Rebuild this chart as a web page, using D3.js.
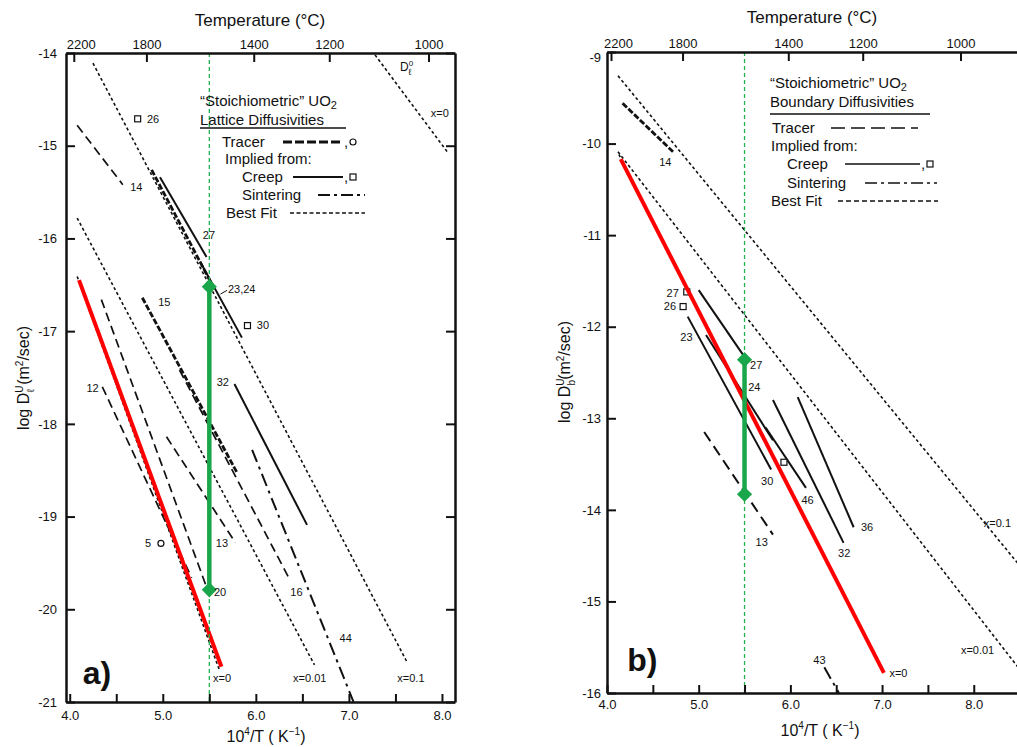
<!DOCTYPE html>
<html><head><meta charset="utf-8">
<script src="https://cdn.jsdelivr.net/npm/d3@7"></script>
<style>
body{margin:0;background:#fff}
svg{display:block;background:#fff}
text{font-family:"Liberation Sans",Arial,Helvetica,sans-serif;fill:#111}
</style>
</head><body>
<svg id="chart" width="1017" height="747"></svg>
<script>
// ---------------- DATA ----------------
const xTickValues = [4.0, 4.5, 5.0, 5.5, 6.0, 6.5, 7.0, 7.5, 8.0];
const tempTicks = [2200, 1800, 1400, 1200, 1000];
const yTicksA = [-21, -20, -19, -18, -17, -16, -15, -14];
const yTicksB = [-16, -15, -14, -13, -12, -11, -10, -9];
const markerX = 5.5;

// Panel a: lattice diffusivities (segments: x = 1e4/T, y = log D)
const latticeBestFit = [
  {id: "Dl0 x=0", x: [7.28, 8.06], y: [-14.02, -15.07]},
  {id: "x=0.1",   x: [4.25, 7.63], y: [-14.11, -20.58]},
  {id: "x=0.01",  x: [4.08, 6.63], y: [-15.78, -20.60]},
  {id: "x=0",     x: [4.08, 5.61], y: [-16.41, -20.66]}
];
const latticeTracer = [
  {id: "14", x: [4.08, 4.57], y: [-14.78, -15.42]},
  {id: "12", x: [4.35, 5.31], y: [-17.60, -19.66]},
  {id: "20", x: [4.34, 5.47], y: [-16.66, -19.76]},
  {id: "13", x: [5.04, 5.78], y: [-18.14, -19.28]},
  {id: "16", x: [5.18, 6.37], y: [-17.42, -19.69]}
];
const latticeTracerHeavy = [
  {id: "15",    x: [4.78, 5.80], y: [-16.64, -18.53]},
  {id: "23,24", x: [4.88, 5.53], y: [-15.26, -16.50]}
];
const latticeCreep = [
  {id: "27",    x: [4.97, 5.47], y: [-15.34, -16.20]},
  {id: "23,24", x: [5.40, 5.85], y: [-16.25, -17.07]},
  {id: "32",    x: [5.77, 6.55], y: [-17.57, -19.09]}
];
const latticeSintering = [
  {id: "44", x: [5.96, 7.05], y: [-18.28, -21.0]}
];
const latticeCreepPoints = [{id: "26", x: 4.73, y: -14.71}, {id: "30", x: 5.91, y: -16.94}];
const latticeTracerPoints = [{id: "5", x: 4.98, y: -19.29}];
const latticeRed = {x: [4.10, 5.63], y: [-16.45, -20.62]};
const latticeGreen = {x: 5.5, y: [-16.52, -19.79]};
const latticeLabels = [
  {t: "26", x: 4.83, y: -14.71}, {t: "30", x: 6.01, y: -16.94}, {t: "14", x: 4.65, y: -15.45},
  {t: "27", x: 5.43, y: -15.96}, {t: "23,24", x: 5.70, y: -16.55}, {t: "15", x: 4.95, y: -16.69},
  {t: "32", x: 5.58, y: -17.55}, {t: "12", x: 4.18, y: -17.62}, {t: "13", x: 5.57, y: -19.29},
  {t: "5", x: 4.81, y: -19.29}, {t: "20", x: 5.55, y: -19.81}, {t: "16", x: 6.37, y: -19.81},
  {t: "44", x: 6.90, y: -20.31}, {t: "x=0", x: 5.54, y: -20.74}, {t: "x=0.01", x: 6.40, y: -20.74},
  {t: "x=0.1", x: 7.52, y: -20.74}, {t: "x=0", x: 7.88, y: -14.65}
];

// Panel b: boundary diffusivities
const boundaryBestFit = [
  {id: "x=0.1",  x: [4.12, 8.60], y: [-9.26, -14.73]},
  {id: "x=0.01", x: [4.12, 8.60], y: [-10.09, -15.87]},
  {id: "x=0",    x: [4.13, 7.02], y: [-10.12, -15.78]}
];
const boundaryTracer = [
  {id: "13", x: [5.06, 5.81], y: [-13.15, -14.27]}
];
const boundaryTracerHeavy = [
  {id: "14", x: [4.17, 4.72], y: [-9.56, -10.09]}
];
const boundaryCreep = [
  {id: "27", x: [5.00, 5.52], y: [-11.60, -12.36]},
  {id: "23", x: [4.88, 5.79], y: [-11.89, -13.56]},
  {id: "24", x: [5.08, 5.81], y: [-12.09, -13.24]},
  {id: "46", x: [5.73, 6.17], y: [-13.10, -13.76]},
  {id: "32", x: [5.81, 6.58], y: [-12.80, -14.36]},
  {id: "36", x: [6.08, 6.69], y: [-12.77, -14.19]}
];
const boundarySintering = [
  {id: "43", x: [6.37, 6.53], y: [-15.72, -16.0]}
];
const boundaryCreepPoints = [{id: "27", x: 4.87, y: -11.62}, {id: "26", x: 4.83, y: -11.78}, {id: "30", x: 5.93, y: -13.48}];
const boundaryRed = {x: [4.15, 7.02], y: [-10.17, -15.78]};
const boundaryGreen = {x: 5.5, y: [-12.36, -13.83]};
const boundaryLabels = [
  {t: "14", x: 4.57, y: -10.20}, {t: "27", x: 4.65, y: -11.63}, {t: "26", x: 4.62, y: -11.78},
  {t: "23", x: 4.80, y: -12.11}, {t: "27", x: 5.56, y: -12.42}, {t: "24", x: 5.54, y: -12.66},
  {t: "30", x: 5.68, y: -13.69}, {t: "46", x: 6.12, y: -13.89}, {t: "36", x: 6.77, y: -14.19},
  {t: "32", x: 6.52, y: -14.47}, {t: "13", x: 5.62, y: -14.35}, {t: "43", x: 6.25, y: -15.64},
  {t: "x=0", x: 7.08, y: -15.78}, {t: "x=0.01", x: 7.86, y: -15.53}, {t: "x=0.1", x: 8.11, y: -14.14}
];

// ---------------- DRAWING ----------------
const svg = d3.select("#chart");
const FONT = '"Liberation Sans",Arial,Helvetica,sans-serif';

const styles = {
  bestFit: {w: 1.6, dash: "3,2.6"},
  tracer: {w: 1.7, dash: "9,5"},
  tracerHeavy: {w: 2.8, dash: "6,2"},
  creep: {w: 2, dash: null},
  sintering: {w: 2, dash: "13,5,3,5"}
};

function panel(cfg) {
  const g = svg.append("g");
  const x = cfg.x, y = cfg.y;
  const [x0, x1] = x.range(), [yb, yt] = y.range();
  const clipId = "clip" + cfg.name;
  svg.append("clipPath").attr("id", clipId).append("rect")
    .attr("x", x0).attr("y", yt).attr("width", x1 - x0).attr("height", yb - yt);
  const plot = g.append("g").attr("clip-path", `url(#${clipId})`);
  const line = d3.line().x(d => x(d[0])).y(d => y(d[1]));

  function segs(arr, st, extra) {
    plot.selectAll(null).data(arr).enter().append("path")
      .attr("d", d => line([[d.x[0], d.y[0]], [d.x[1], d.y[1]]]))
      .attr("fill", "none").attr("stroke", "#111")
      .attr("stroke-width", (extra && extra.w) || st.w)
      .attr("stroke-dasharray", (extra && extra.dash) || st.dash);
  }
  segs(cfg.bestFit, styles.bestFit);
  segs(cfg.tracer, styles.tracer, cfg.tracerStyle);
  segs(cfg.tracerHeavy, styles.tracerHeavy);
  segs(cfg.creep, styles.creep);
  segs(cfg.sintering, styles.sintering);

  plot.selectAll(null).data(cfg.creepPts).enter().append("rect")
    .attr("x", d => x(d.x) - 3).attr("y", d => y(d.y) - 3).attr("width", 6).attr("height", 6)
    .attr("fill", "#fff").attr("stroke", "#111").attr("stroke-width", 1.2);
  plot.selectAll(null).data(cfg.tracerPts).enter().append("circle")
    .attr("cx", d => x(d.x)).attr("cy", d => y(d.y)).attr("r", 3)
    .attr("fill", "#fff").attr("stroke", "#111").attr("stroke-width", 1.2);

  // red line
  plot.append("path").attr("d", line([[cfg.red.x[0], cfg.red.y[0]], [cfg.red.x[1], cfg.red.y[1]]]))
    .attr("stroke", "#ff0000").attr("stroke-width", 4).attr("fill", "none");

  // green dashed vertical and bar
  plot.append("line").attr("x1", x(markerX)).attr("x2", x(markerX)).attr("y1", yt).attr("y2", yb)
    .attr("stroke", "#22b14c").attr("stroke-width", 1.3).attr("stroke-dasharray", "4,3");
  plot.append("line").attr("x1", x(cfg.green.x)).attr("x2", x(cfg.green.x))
    .attr("y1", y(cfg.green.y[0])).attr("y2", y(cfg.green.y[1]))
    .attr("stroke", "#1aa64a").attr("stroke-width", 4.5);
  plot.selectAll(null).data(cfg.green.y).enter().append("path")
    .attr("d", d3.symbol(d3.symbolSquare, 115))
    .attr("transform", d => `translate(${x(cfg.green.x)},${y(d)}) rotate(45)`)
    .attr("fill", "#1aa64a");

  // labels
  g.selectAll(null).data(cfg.labels).enter().append("text")
    .attr("x", d => x(d.x)).attr("y", d => y(d.y)).attr("dy", "0.35em")
    .attr("font-size", 11).text(d => d.t);

  // axes
  const sw = 2.5;
  const bottom = g.append("g").attr("transform", `translate(0,${yb})`)
    .call(d3.axisBottom(x).tickValues(xTickValues).tickSize(-8).tickSizeOuter(0).tickPadding(cfg.bPad)
      .tickFormat(d => Number.isInteger(d) ? d.toFixed(1) : ""));
  const top = g.append("g").attr("transform", `translate(0,${yt})`)
    .call(d3.axisTop(x).tickValues(tempTicks.map(t => 1e4 / (t + 273))).tickSize(-9).tickSizeOuter(0).tickPadding(4)
      .tickFormat(v => Math.round(1e4 / v - 273)));
  const left = g.append("g").attr("transform", `translate(${x0},0)`)
    .call(d3.axisLeft(y).tickValues(cfg.yTicks).tickSize(-9).tickSizeOuter(0).tickPadding(cfg.lPad)
      .tickFormat(d => String(d)));
  const axes = [bottom, top, left];
  if (cfg.rightAxis) {
    axes.push(g.append("g").attr("transform", `translate(${x1},0)`)
      .call(d3.axisRight(y).tickValues(cfg.yTicks).tickSize(-9).tickSizeOuter(0).tickFormat("")));
  }
  axes.forEach(a => {
    a.select(".domain").attr("stroke", "#111").attr("stroke-width", sw);
    a.selectAll(".tick line").attr("stroke", "#111").attr("stroke-width", 2);
    a.selectAll("text").attr("font-family", FONT).attr("font-size", 13).attr("fill", "#111");
  });
  // hottest temperature label sits a little to the right of its tick in the original
  top.selectAll(".tick text").filter(v => Math.round(1e4 / v - 273) === tempTicks[0]).attr("dx", 7);
  // top y label sits slightly below the top axis line
  left.selectAll(".tick text").filter(v => v === cfg.yTicks[cfg.yTicks.length - 1]).attr("dy", cfg.topDy);

  // titles
  g.append("text").attr("x", cfg.tempTitle[0]).attr("y", cfg.tempTitle[1]).attr("text-anchor", "middle")
    .attr("font-size", 17).text("Temperature (°C)");
  const xt = g.append("text").attr("x", cfg.xTitle[0]).attr("y", cfg.xTitle[1]).attr("text-anchor", "middle")
    .attr("font-size", 16);
  xt.append("tspan").text("10");
  xt.append("tspan").attr("font-size", 10).attr("dy", -7).text("4");
  xt.append("tspan").attr("dy", 7).text("/T (  K");
  xt.append("tspan").attr("font-size", 10).attr("dy", -7).text("−1");
  xt.append("tspan").attr("dy", 7).text(")");

  const yt2 = g.append("text").attr("transform", `translate(${cfg.yTitle[0]},${cfg.yTitle[1]}) rotate(-90)`)
    .attr("text-anchor", "middle").attr("font-size", 16);
  yt2.append("tspan").text("log D");
  yt2.append("tspan").attr("font-size", 10).attr("dy", -6).text("U");
  yt2.append("tspan").attr("font-size", 10).attr("dx", -7).attr("dy", 11).text(cfg.sub);
  yt2.append("tspan").attr("dy", -5).text(cfg.sub === "ℓ" ? " (m" : "(m");
  yt2.append("tspan").attr("font-size", 10).attr("dy", -6).text("2");
  yt2.append("tspan").attr("dy", 6).text("/sec)");

  // panel letter
  g.append("text").attr("x", x(cfg.letter.x)).attr("y", y(cfg.letter.y)).attr("dy", "0.35em")
    .attr("font-size", 32).attr("font-weight", "bold").text(cfg.letter.t);

  return g;
}

const xA = d3.scaleLinear().domain([3.96, 8.14]).range([66, 455]);
const yA = d3.scaleLinear().domain([-21, -14]).range([702, 53]);
const gA = panel({
  name: "A", x: xA, y: yA, yTicks: yTicksA, rightAxis: true, bPad: 9, lPad: 9, topDy: "0.32em",
  bestFit: latticeBestFit, tracer: latticeTracer, tracerHeavy: latticeTracerHeavy,
  creep: latticeCreep, sintering: latticeSintering,
  creepPts: latticeCreepPoints, tracerPts: latticeTracerPoints,
  red: latticeRed, green: latticeGreen, labels: latticeLabels,
  tempTitle: [260, 26], xTitle: [266, 742], yTitle: [29, 378], sub: "ℓ",
  letter: {t: "a)", x: 4.14, y: -20.69}
});

const xB = d3.scaleLinear().domain([4.0, 8.5]).range([607, 1019.6]);
const yB = d3.scaleLinear().domain([-16, -9]).range([693, 52]);
const gB = panel({
  name: "B", x: xB, y: yB, yTicks: yTicksB, rightAxis: false, bPad: 7, lPad: 6, topDy: "0.7em",
  bestFit: boundaryBestFit, tracer: boundaryTracer, tracerHeavy: boundaryTracerHeavy,
  tracerStyle: {w: 2, dash: "11,6"},
  creep: boundaryCreep, sintering: boundarySintering,
  creepPts: boundaryCreepPoints, tracerPts: [],
  red: boundaryRed, green: boundaryGreen, labels: boundaryLabels,
  tempTitle: [812, 23], xTitle: [820, 736], yTitle: [570, 372], sub: "b",
  letter: {t: "b)", x: 4.22, y: -15.64}
});

// D_l^0 annotation (panel a)
const dl = gA.append("text").attr("x", xA(7.55)).attr("y", yA(-14.15)).attr("dy", "0.35em").attr("font-size", 12);
dl.append("tspan").text("D");
dl.append("tspan").attr("font-size", 8).attr("dy", -5).text("0");
dl.append("tspan").attr("font-size", 9).attr("dx", -5).attr("dy", 9).text("ℓ");

// small arrow for 23,24
gA.append("line").attr("x1", xA(5.69)).attr("y1", yA(-16.56)).attr("x2", xA(5.62)).attr("y2", yA(-16.60))
  .attr("stroke", "#111").attr("stroke-width", 1);

// ---------------- LEGENDS ----------------
function legend(g, L) {
  const t1 = g.append("text").attr("x", L.x).attr("y", L.y1).attr("font-size", 15);
  t1.append("tspan").text("“Stoichiometric” UO");
  t1.append("tspan").attr("font-size", 11).attr("dy", 3).text("2");
  g.append("text").attr("x", L.x).attr("y", L.y2).attr("font-size", 15).text(L.sub);
  g.append("line").attr("x1", L.x).attr("x2", L.ulEnd).attr("y1", L.ul).attr("y2", L.ul)
    .attr("stroke", "#111").attr("stroke-width", 1.3);
  L.rows.forEach(r => {
    g.append("text").attr("x", r.tx).attr("y", r.ty).attr("font-size", 15).text(r.t);
    if (r.l) {
      g.append("line").attr("x1", r.l[0]).attr("x2", r.l[1]).attr("y1", r.ty - 5).attr("y2", r.ty - 5)
        .attr("stroke", "#111").attr("stroke-width", r.w).attr("stroke-dasharray", r.dash);
    }
    if (r.m) {
      g.append("text").attr("x", r.l[1] + 1).attr("y", r.ty).attr("font-size", 15).text(",");
      if (r.m === "o") g.append("circle").attr("cx", r.l[1] + 10).attr("cy", r.ty - 5).attr("r", 3)
        .attr("fill", "#fff").attr("stroke", "#111").attr("stroke-width", 1.2);
      else g.append("rect").attr("x", r.l[1] + 7).attr("y", r.ty - 8).attr("width", 6).attr("height", 6)
        .attr("fill", "#fff").attr("stroke", "#111").attr("stroke-width", 1.2);
    }
  });
}
legend(gA, {
  x: 200, y1: 106, y2: 125, sub: "Lattice Diffusivities", ul: 128, ulEnd: 346,
  rows: [
    {t: "Tracer", tx: 222, ty: 147, l: [283, 343], w: 2.8, dash: "9,3", m: "o"},
    {t: "Implied from:", tx: 225, ty: 164},
    {t: "Creep", tx: 242, ty: 182, l: [293, 343], w: 2, dash: null, m: "s"},
    {t: "Sintering", tx: 242, ty: 200, l: [318, 365], w: 2, dash: "12,4,3,4"},
    {t: "Best Fit", tx: 226, ty: 218, l: [290, 365], w: 1.6, dash: "4,2.5"}
  ]
});
legend(gB, {
  x: 770, y1: 88, y2: 107, sub: "Boundary Diffusivities", ul: 114, ulEnd: 930,
  rows: [
    {t: "Tracer", tx: 772, ty: 133, l: [831, 918], w: 1.6, dash: "14,6"},
    {t: "Implied from:", tx: 771, ty: 151},
    {t: "Creep", tx: 787, ty: 169, l: [845, 920], w: 1.6, dash: null, m: "s"},
    {t: "Sintering", tx: 787, ty: 188, l: [865, 937], w: 1.6, dash: "12,4,3,4"},
    {t: "Best Fit", tx: 771, ty: 206, l: [838, 938], w: 1.6, dash: "5,3"}
  ]
});
</script>
</body></html>
